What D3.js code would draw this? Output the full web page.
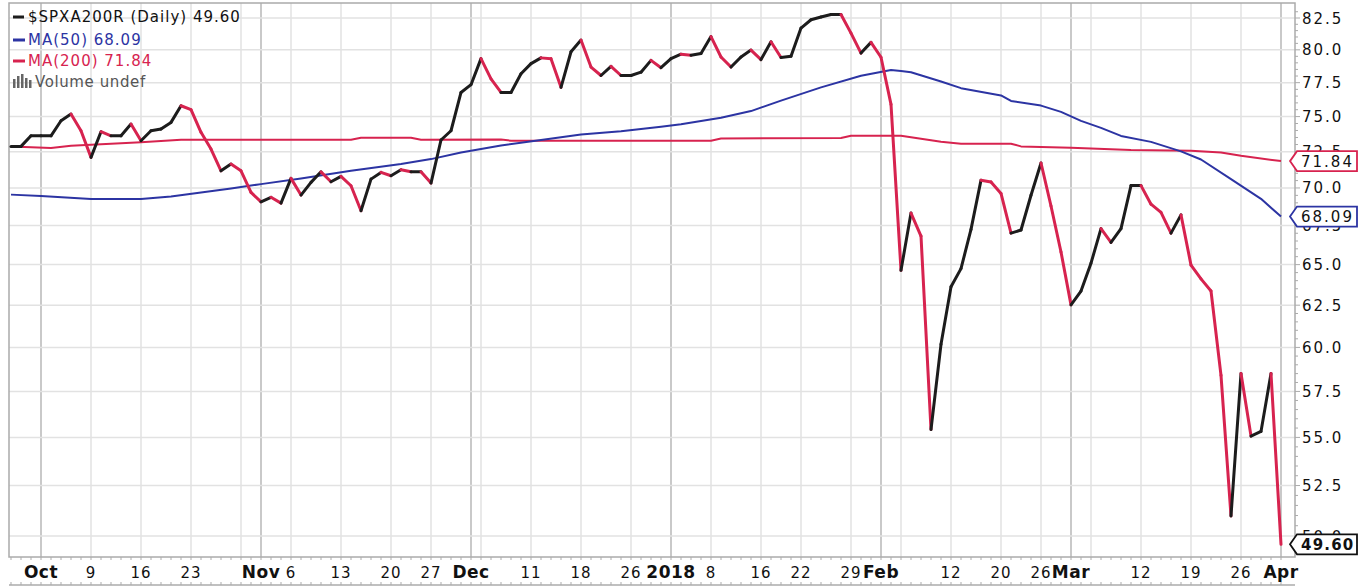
<!DOCTYPE html>
<html><head><meta charset="utf-8">
<script src="https://cdn.jsdelivr.net/npm/d3@7"></script>
<style>
html,body{margin:0;padding:0;background:#fff;}
svg{display:block;}
text{font-family:"DejaVu Sans",Verdana,sans-serif;}
</style></head><body>
<svg id="chart" width="1370" height="588"></svg>
<script>
// ---------------- DATA ----------------
const firstDay = "2017-09-27";
const lastDay = "2018-04-02";
const holidays = ["2017-11-23","2017-12-25","2018-01-01","2018-01-15","2018-02-19","2018-03-30"];

// $SPXA200R daily close, one value per trading day from firstDay to lastDay
const price = [
72.87,72.87,73.62,73.62,73.62,74.70,75.19,73.98,72.10,73.91,
73.62,73.62,74.46,73.27,73.98,74.10,74.58,75.79,75.50,73.87,
72.68,71.17,71.64,71.17,69.70,69.07,69.37,68.98,70.65,69.52,
70.38,71.10,70.42,70.79,70.15,68.47,70.60,71.06,70.83,71.24,
71.10,71.10,70.33,73.32,73.98,76.77,77.35,79.32,77.79,76.77,
76.77,78.17,78.94,79.38,79.32,77.15,79.85,80.76,78.68,78.04,
78.73,78.04,78.04,78.29,79.19,78.63,79.32,79.66,79.58,79.72,
81.03,79.45,78.68,79.45,79.98,79.25,80.63,79.41,79.51,81.70,
82.36,82.58,82.78,82.78,81.30,79.75,80.58,79.43,75.89,64.64,
68.32,66.82,55.42,60.18,63.62,64.75,67.25,70.53,70.41,69.63,
67.01,67.21,69.51,71.71,68.79,65.80,62.52,63.36,65.09,67.30,
66.41,67.30,70.16,70.16,68.91,68.37,67.01,68.20,64.97,64.11,
63.36,58.40,50.98,58.50,55.07,55.32,58.50,49.60];

// Moving averages at sample dates
const ma50Dates = ["2017-09-27","2017-10-02","2017-10-09","2017-10-16","2017-10-19","2017-10-24","2017-10-27","2017-11-01","2017-11-07","2017-11-14","2017-11-21","2017-11-27","2017-11-30","2017-12-06","2017-12-12","2017-12-18","2017-12-22","2017-12-29","2018-01-03","2018-01-09","2018-01-12","2018-01-18","2018-01-24","2018-01-30","2018-02-02","2018-02-05","2018-02-06","2018-02-09","2018-02-13","2018-02-20","2018-02-21","2018-02-26","2018-02-28","2018-03-02","2018-03-06","2018-03-08","2018-03-13","2018-03-16","2018-03-20","2018-03-23","2018-03-28","2018-04-02"];
const ma50Values = [69.55,69.45,69.25,69.25,69.43,69.70,69.97,70.26,70.65,71.17,71.64,71.98,72.44,72.93,73.32,73.71,73.94,74.27,74.44,74.92,75.40,76.17,77.15,78.02,78.45,78.38,78.29,77.59,77.09,76.55,76.14,75.80,75.34,74.69,74.19,73.61,73.19,72.52,71.95,70.60,69.27,68.09];

const ma200Dates = ["2017-09-27","2017-10-03","2017-10-05","2017-10-16","2017-10-20","2017-11-14","2017-11-15","2017-11-22","2017-11-24","2017-12-06","2017-12-07","2018-01-08","2018-01-09","2018-01-26","2018-01-29","2018-02-05","2018-02-09","2018-02-13","2018-02-21","2018-02-22","2018-03-01","2018-03-09","2018-03-19","2018-03-22","2018-03-26","2018-04-02"];
const ma200Values = [72.87,72.75,72.92,73.16,73.34,73.34,73.48,73.48,73.34,73.35,73.27,73.27,73.43,73.46,73.62,73.62,73.19,73.06,73.06,72.87,72.77,72.62,72.57,72.44,72.21,71.84];

const yTicks = [50.0,52.5,55.0,57.5,60.0,62.5,65.0,67.5,70.0,72.5,75.0,77.5,80.0,82.5];
const xTickDates  = ["2017-10-02","2017-10-09","2017-10-16","2017-10-23","2017-11-01","2017-11-06","2017-11-13","2017-11-20","2017-11-27","2017-12-01","2017-12-11","2017-12-18","2017-12-26","2018-01-02","2018-01-08","2018-01-16","2018-01-22","2018-01-29","2018-02-01","2018-02-12","2018-02-20","2018-02-26","2018-03-01","2018-03-12","2018-03-19","2018-03-26","2018-04-02"];
const xTickLabels = ["Oct","9","16","23","Nov","6","13","20","27","Dec","11","18","26","2018","8","16","22","29","Feb","12","20","26","Mar","12","19","26","Apr"];
const xTickBold   = [1,0,0,0,1,0,0,0,0,1,0,0,0,1,0,0,0,0,1,0,0,0,1,0,0,0,1];

const legendTitle = "$SPXA200R (Daily) 49.60";
const legendMA50 = "MA(50) 68.09";
const legendMA200 = "MA(200) 71.84";
const legendVol = "Volume undef";
const lastPrice = 49.60, lastMA50 = 68.09, lastMA200 = 71.84;

// ---------------- LAYOUT ----------------
const C = {black:"#1c1c1c", red:"#d7234f", blue:"#2c34a3", grid:"#e2e2e2", gridMonth:"#c9c9c9", frame:"#ababab"};
const L = 9, R = 1295, T = 3, B = 557, AX = 585;

const fmt = d3.timeFormat("%Y-%m-%d");
const parse = d3.timeParse("%Y-%m-%d");
const dates = d3.timeDay.range(parse(firstDay), d3.timeDay.offset(parse(lastDay), 1))
  .filter(d => d.getDay() !== 0 && d.getDay() !== 6 && !holidays.includes(fmt(d)))
  .map(fmt);

const x = d3.scalePoint().domain(dates).range([11, 1281]);
const y = d3.scaleLog().domain([50, 82.5]).range([536, 18]);

const svg = d3.select("#chart");
svg.append("rect").attr("width",1370).attr("height",588).attr("fill","#fff");

// vertical grid (week starts & month starts)
const vg = svg.append("g");
dates.forEach((ds, i) => {
  if (i === 0) return;
  const d = parse(ds), p = parse(dates[i-1]);
  const month = d.getMonth() !== p.getMonth();
  const week = d.getDay() < p.getDay();
  if (month || week) {
    vg.append("line").attr("x1", x(ds)).attr("x2", x(ds)).attr("y1", T).attr("y2", B)
      .attr("stroke", month ? C.gridMonth : C.grid).attr("stroke-width", month ? 2 : 1.5);
  }
});
// horizontal grid
svg.append("g").selectAll("line").data(yTicks).join("line")
  .attr("x1", L).attr("x2", R).attr("y1", d => y(d)).attr("y2", d => y(d))
  .attr("stroke", C.grid).attr("stroke-width", 1.5);

// frame
svg.append("rect").attr("x", L).attr("y", T).attr("width", R-L).attr("height", B-T)
  .attr("fill","none").attr("stroke", C.frame).attr("stroke-width", 1.5);
svg.append("line").attr("x1", L).attr("x2", R).attr("y1", AX).attr("y2", AX)
  .attr("stroke", C.frame).attr("stroke-width", 1.5);

// x minor ticks
const xt = svg.append("g").attr("stroke", C.frame).attr("stroke-width", 1);
dates.forEach(ds => {
  xt.append("line").attr("x1", x(ds)).attr("x2", x(ds)).attr("y1", B).attr("y2", B+3);
  xt.append("line").attr("x1", x(ds)).attr("x2", x(ds)).attr("y1", AX-3).attr("y2", AX);
});

// y ticks (minor every 0.5)
const yt = svg.append("g").attr("stroke", C.frame).attr("stroke-width", 1);
d3.range(50, 83.01, 0.5).forEach(v => {
  const major = Math.abs(v/2.5 - Math.round(v/2.5)) < 1e-6;
  yt.append("line").attr("x1", R).attr("x2", R + (major ? 5 : 3)).attr("y1", y(v)).attr("y2", y(v));
});

// y labels
svg.append("g").selectAll("text").data(yTicks).join("text")
  .attr("x", 1302).attr("y", d => y(d) + 5.5)
  .attr("font-size", 15).attr("letter-spacing", 2).attr("fill", "#111")
  .text(d => d.toFixed(1));

// x labels
svg.append("g").selectAll("text").data(xTickDates).join("text")
  .attr("x", d => x(d)).attr("y", 578).attr("text-anchor", "middle")
  .attr("font-size", (d,i) => xTickBold[i] ? 17 : 15)
  .attr("font-weight", (d,i) => xTickBold[i] ? "bold" : "normal")
  .attr("letter-spacing", (d,i) => xTickBold[i] ? 0.5 : 1)
  .attr("fill", "#111")
  .text((d,i) => xTickLabels[i]);

// MA lines
const line = d3.line().x(d => x(d[0])).y(d => y(d[1]));
svg.append("path").datum(ma200Dates.map((d,i) => [d, ma200Values[i]]))
  .attr("d", line).attr("fill","none").attr("stroke", C.red).attr("stroke-width", 2).attr("stroke-linejoin","round");
svg.append("path").datum(ma50Dates.map((d,i) => [d, ma50Values[i]]))
  .attr("d", line).attr("fill","none").attr("stroke", C.blue).attr("stroke-width", 2).attr("stroke-linejoin","round");

// price line, colored by direction
const pts = dates.map((d,i) => [d, price[i]]);
const pg = svg.append("g");
for (let i = 1; i < pts.length; i++) {
  pg.append("path").attr("d", line([pts[i-1], pts[i]]))
    .attr("fill","none").attr("stroke", price[i] < price[i-1] ? C.red : C.black)
    .attr("stroke-width", 3).attr("stroke-linecap","round");
}

// value tags
function tag(v, txt, color, bold) {
  const c = y(v);
  svg.append("path")
    .attr("d", `M1290,${c} L1297,${c-10} L1357,${c-10} L1357,${c+10} L1297,${c+10} Z`)
    .attr("fill", "#fff").attr("stroke", color).attr("stroke-width", 1.8);
  svg.append("text").attr("x", 1301).attr("y", c + 5.5)
    .attr("font-size", 15).attr("letter-spacing", bold ? 1.2 : 2)
    .attr("font-weight", bold ? "bold" : "normal").attr("fill", "#111").text(txt);
}
tag(lastMA200, lastMA200.toFixed(2), C.red, false);
tag(lastMA50, lastMA50.toFixed(2), C.blue, false);
tag(lastPrice, lastPrice.toFixed(2), "#111", true);

// legend
const lg = svg.append("g");
lg.append("line").attr("x1", 13).attr("x2", 24).attr("y1", 17).attr("y2", 17).attr("stroke", C.black).attr("stroke-width", 3);
lg.append("text").attr("x", 28).attr("y", 22).attr("font-size", 15).attr("letter-spacing", 1).attr("fill", "#111").text(legendTitle);
lg.append("line").attr("x1", 13).attr("x2", 25).attr("y1", 40).attr("y2", 40).attr("stroke", C.blue).attr("stroke-width", 3);
lg.append("text").attr("x", 28).attr("y", 45).attr("font-size", 15).attr("letter-spacing", 1).attr("fill", C.blue).text(legendMA50);
lg.append("line").attr("x1", 13).attr("x2", 25).attr("y1", 61).attr("y2", 61).attr("stroke", C.red).attr("stroke-width", 3);
lg.append("text").attr("x", 28).attr("y", 66).attr("font-size", 15).attr("letter-spacing", 1).attr("fill", C.red).text(legendMA200);
[[13,79],[17,76],[21,74],[25,78],[29,80]].forEach(b => {
  lg.append("rect").attr("x", b[0]).attr("y", b[1]).attr("width", 2.5).attr("height", 88 - b[1]).attr("fill", "#666");
});
lg.append("text").attr("x", 35).attr("y", 87).attr("font-size", 15).attr("letter-spacing", 0.6).attr("fill", "#555").text(legendVol);
</script>
</body></html>
